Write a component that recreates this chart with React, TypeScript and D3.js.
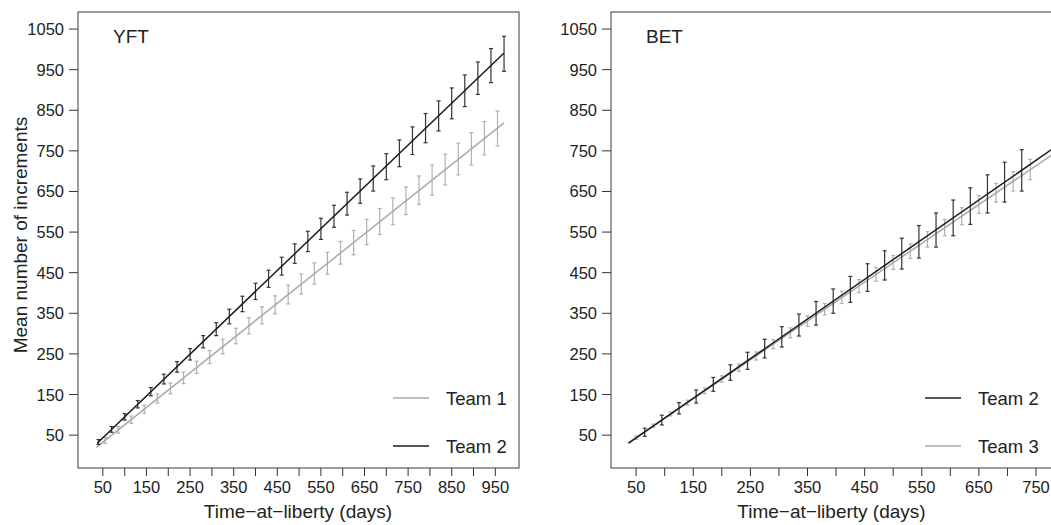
import React from 'react';
import * as d3 from 'd3';

const W = 1051, H = 525;
const FONT = '"Liberation Sans", Arial, Helvetica, sans-serif';
const BLACK = '#1c1c1c';
const GREY = '#a9a9a9';

// y axis (shared by both panels)
const yTicks = [50, 150, 250, 350, 450, 550, 650, 750, 850, 950, 1050];

// YFT panel
const yftXTicks = [50, 100, 150, 200, 250, 300, 350, 400, 450, 500, 550, 600, 650, 700, 750, 800, 850, 900, 950];
const yftXLabels = [50, 150, 250, 350, 450, 550, 650, 750, 850, 950];

const yftDays1 = [55, 85, 115, 145, 175, 205, 235, 265, 295, 325, 355, 385, 415, 445, 475, 505, 535, 565, 595, 625, 655, 685, 715, 745, 775, 805, 835, 865, 895, 925, 955];
const yftMean1 = [37, 63, 88, 114, 140, 165, 191, 217, 242, 268, 294, 319, 345, 371, 396, 422, 448, 473, 499, 524, 550, 576, 601, 627, 653, 678, 704, 730, 755, 781, 805];
const yftErr1 = [7, 8, 9, 10, 11, 13, 14, 15, 16, 18, 19, 20, 21, 22, 23, 25, 26, 27, 28, 30, 31, 32, 33, 34, 35, 37, 38, 39, 40, 41, 43];
const yftFit1: [number, number][] = [[35, 20], [970, 819]];

const yftDays2 = [40, 70, 100, 130, 160, 190, 220, 250, 280, 310, 340, 370, 400, 430, 460, 490, 520, 550, 580, 610, 640, 670, 700, 730, 760, 790, 820, 850, 880, 910, 940, 970];
const yftMean2 = [33, 64, 95, 126, 157, 188, 218, 249, 280, 311, 342, 373, 404, 435, 466, 497, 527, 558, 589, 620, 651, 682, 711, 744, 775, 806, 836, 867, 898, 929, 960, 989];
const yftErr2 = [6, 7, 8, 9, 10, 12, 13, 14, 15, 16, 18, 19, 20, 21, 22, 24, 25, 26, 27, 28, 30, 31, 32, 33, 34, 36, 37, 38, 39, 40, 42, 43];
const yftFit2: [number, number][] = [[37, 30], [970, 991]];

// BET panel
const betXTicks = [50, 100, 150, 200, 250, 300, 350, 400, 450, 500, 550, 600, 650, 700, 750];
const betXLabels = [50, 150, 250, 350, 450, 550, 650, 750];

const betDays2 = [65, 95, 125, 155, 185, 215, 245, 275, 305, 335, 365, 395, 425, 455, 485, 515, 545, 575, 605, 635, 665, 695, 725];
const betMean2 = [57, 87, 116, 145, 175, 204, 233, 263, 292, 321, 350, 380, 409, 438, 468, 497, 526, 555, 585, 614, 644, 673, 702];
const betErr2 = [10, 12, 14, 16, 17, 19, 21, 23, 25, 27, 29, 30, 32, 34, 36, 38, 40, 42, 44, 45, 47, 49, 51];
const betFit2: [number, number][] = [[37, 30], [778, 754]];

const betDays3 = [50, 80, 110, 140, 170, 200, 230, 260, 290, 320, 350, 380, 410, 440, 470, 500, 530, 560, 590, 620, 650, 680, 710, 740];
const betMean3 = [44, 73, 102, 130, 159, 188, 216, 245, 274, 302, 331, 360, 389, 417, 446, 475, 503, 532, 561, 589, 618, 647, 675, 704];
const betErr3 = [4, 4, 5, 6, 7, 8, 9, 10, 11, 12, 13, 14, 15, 16, 17, 17, 18, 19, 20, 21, 22, 23, 24, 25];
const betFit3: [number, number][] = [[35, 30], [778, 740]];

type Series = { name: string; days: number[]; mean: number[]; err: number[]; fit: [number, number][]; color: string; barColor: string };

type PanelProps = {
  left: number; right: number; xDomain: [number, number];
  xTicks: number[]; xLabels: number[]; label: string;
  series: Series[]; legend: Series[]; legendX: number; yTitle?: string;
};

const top = 12, bottom = 468;
const y = d3.scaleLinear().domain([-31, 1092]).range([bottom, top]);

function Panel({ left, right, xDomain, xTicks, xLabels, label, series, legend, legendX, yTitle }: PanelProps) {
  const x = d3.scaleLinear().domain(xDomain).range([left, right]);
  const line = d3.line<[number, number]>().x(d => x(d[0])).y(d => y(d[1]));
  const cx = (left + right) / 2;
  return (
    <g>
      <rect x={left} y={top} width={right - left + 1} height={bottom - top} fill="none" stroke="#3a3a3a" strokeWidth={1} />
      {yTicks.map(t => (
        <g key={t}>
          <line x1={left - 9} x2={left} y1={y(t)} y2={y(t)} stroke="#333" />
          <text x={left - 14} y={y(t)} textAnchor="end" dominantBaseline="central" fontSize={16.5} fill="#222">{t}</text>
        </g>
      ))}
      {xTicks.map(t => (
        <line key={t} x1={x(t)} x2={x(t)} y1={bottom} y2={bottom + 8} stroke="#333" />
      ))}
      {xLabels.map(t => (
        <text key={t} x={x(t)} y={bottom + 25} textAnchor="middle" fontSize={16.5} fill="#222">{t}</text>
      ))}
      <text x={cx} y={518} textAnchor="middle" fontSize={19} fill="#222">Time−at−liberty (days)</text>
      {yTitle && (
        <text transform={`translate(27,235) rotate(-90)`} textAnchor="middle" fontSize={19} fill="#222">{yTitle}</text>
      )}
      <text x={left + 35} y={43} fontSize={19} fill="#222">{label}</text>
      {series.map(s => (
        <g key={s.name}>
          {s.days.map((d, i) => {
            const px = x(d), lo = y(s.mean[i] - s.err[i]), hi = y(s.mean[i] + s.err[i]);
            return (
              <g key={d} stroke={s.barColor} strokeWidth={1.2}>
                <line x1={px} x2={px} y1={lo} y2={hi} />
                <line x1={px - 2} x2={px + 2} y1={lo} y2={lo} />
                <line x1={px - 2} x2={px + 2} y1={hi} y2={hi} />
              </g>
            );
          })}
          <path d={line(s.fit) || ''} fill="none" stroke={s.color} strokeWidth={1.5} />
        </g>
      ))}
      {legend.map((s, i) => (
        <g key={s.name}>
          <line x1={legendX} x2={legendX + 36} y1={398 + i * 48} y2={398 + i * 48} stroke={s.color} strokeWidth={1.5} />
          <text x={legendX + 53} y={398 + i * 48} dominantBaseline="central" fontSize={18.5} fill="#222">{s.name}</text>
        </g>
      ))}
    </g>
  );
}

export default function App() {
  const yft1: Series = { name: 'Team 1', days: yftDays1, mean: yftMean1, err: yftErr1, fit: yftFit1, color: GREY, barColor: '#b0b0b0' };
  const yft2: Series = { name: 'Team 2', days: yftDays2, mean: yftMean2, err: yftErr2, fit: yftFit2, color: BLACK, barColor: '#333' };
  const bet2: Series = { name: 'Team 2', days: betDays2, mean: betMean2, err: betErr2, fit: betFit2, color: BLACK, barColor: '#333' };
  const bet3: Series = { name: 'Team 3', days: betDays3, mean: betMean3, err: betErr3, fit: betFit3, color: GREY, barColor: '#b0b0b0' };
  return (
    <svg width={W} height={H} style={{ position: 'absolute', left: 0, top: 0, background: '#fff', fontFamily: FONT }}>
      <Panel left={78} right={518} xDomain={[-7, 1002]} xTicks={yftXTicks} xLabels={yftXLabels} label="YFT"
        series={[yft1, yft2]} legend={[yft1, yft2]} legendX={393} yTitle="Mean number of increments" />
      <Panel left={611} right={1052} xDomain={[6, 778]} xTicks={betXTicks} xLabels={betXLabels} label="BET"
        series={[bet3, bet2]} legend={[bet2, bet3]} legendX={925} />
    </svg>
  );
}
